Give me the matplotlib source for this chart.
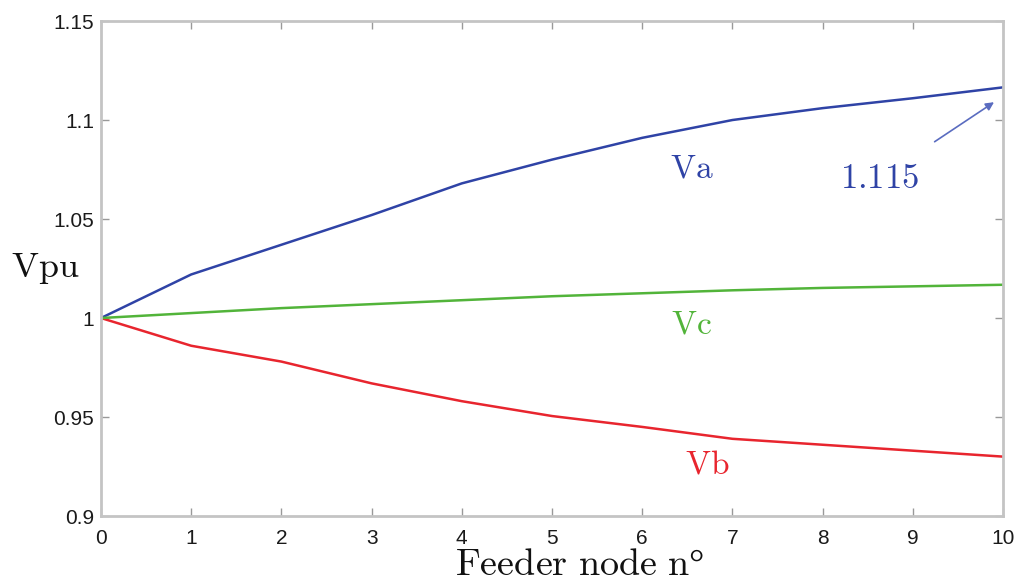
import matplotlib.pyplot as plt

plt.rcParams['mathtext.fontset'] = 'cm'

# feeder nodes and phase voltages (p.u.)
nodes = [0, 1, 2, 3, 4, 5, 6, 7, 8, 9, 10]
va = [1.000, 1.022, 1.037, 1.052, 1.068, 1.080, 1.091, 1.100, 1.106, 1.111, 1.1165]
vb = [1.000, 0.986, 0.978, 0.967, 0.958, 0.9505, 0.945, 0.939, 0.936, 0.933, 0.930]
vc = [1.000, 1.0025, 1.005, 1.007, 1.009, 1.011, 1.0125, 1.014, 1.0152, 1.016, 1.0168]

xticks = list(range(0, 11))
yticks = [0.9, 0.95, 1.0, 1.05, 1.1, 1.15]
ytick_labels = ['0.9', '0.95', '1', '1.05', '1.1', '1.15']

blue = '#2f43a6'
red = '#e8252e'
green = '#52b43a'

fig = plt.figure(figsize=(10.18, 5.84), dpi=100)
ax = fig.add_axes([0.0992, 0.1164, 0.8861, 0.8476])

ax.plot(nodes, va, color=blue, lw=1.8)
ax.plot(nodes, vb, color=red, lw=1.8)
ax.plot(nodes, vc, color=green, lw=1.8)

ax.set_xlim(0, 10)
ax.set_ylim(0.9, 1.15)
ax.set_xticks(xticks)
ax.set_yticks(yticks)
ax.set_yticklabels(ytick_labels)
ax.tick_params(direction='in', length=6, width=1, color='#999999',
               labelsize=15, labelcolor='#1a1a1a')
ax.tick_params(axis='x', pad=9)
ax.tick_params(axis='y', pad=5)
ax.tick_params(top=True, right=True)
for lab in ax.get_xticklabels() + ax.get_yticklabels():
    lab.set_fontfamily('Liberation Sans')
for s in ax.spines.values():
    s.set_color('#c4c4c4')
    s.set_linewidth(2)

ax.text(6.55, 1.076, r'$\mathrm{Va}$', color=blue, fontsize=24, ha='center', va='center')
ax.text(6.55, 0.997, r'$\mathrm{Vc}$', color=green, fontsize=24, ha='center', va='center')
ax.text(6.72, 0.9265, r'$\mathrm{Vb}$', color=red, fontsize=24, ha='center', va='center')
ax.annotate(r'$1.115$', xy=(9.9, 1.109), xytext=(8.63, 1.0705),
            color=blue, fontsize=25, ha='center', va='center',
            arrowprops=dict(arrowstyle='-|>', color='#5a6cc0', lw=1.2,
                            shrinkA=22, shrinkB=0, mutation_scale=12))

fig.text(0.044, 0.54, r'$\mathrm{Vpu}$', fontsize=26, ha='center', va='center', color='#111111')
fig.text(0.569, 0.016, r'$\mathrm{Feeder\ node\ n}$°', fontsize=27.5,
         family='Liberation Serif', ha='center', va='baseline', color='#111111')

fig.savefig('out.png', dpi=100)
